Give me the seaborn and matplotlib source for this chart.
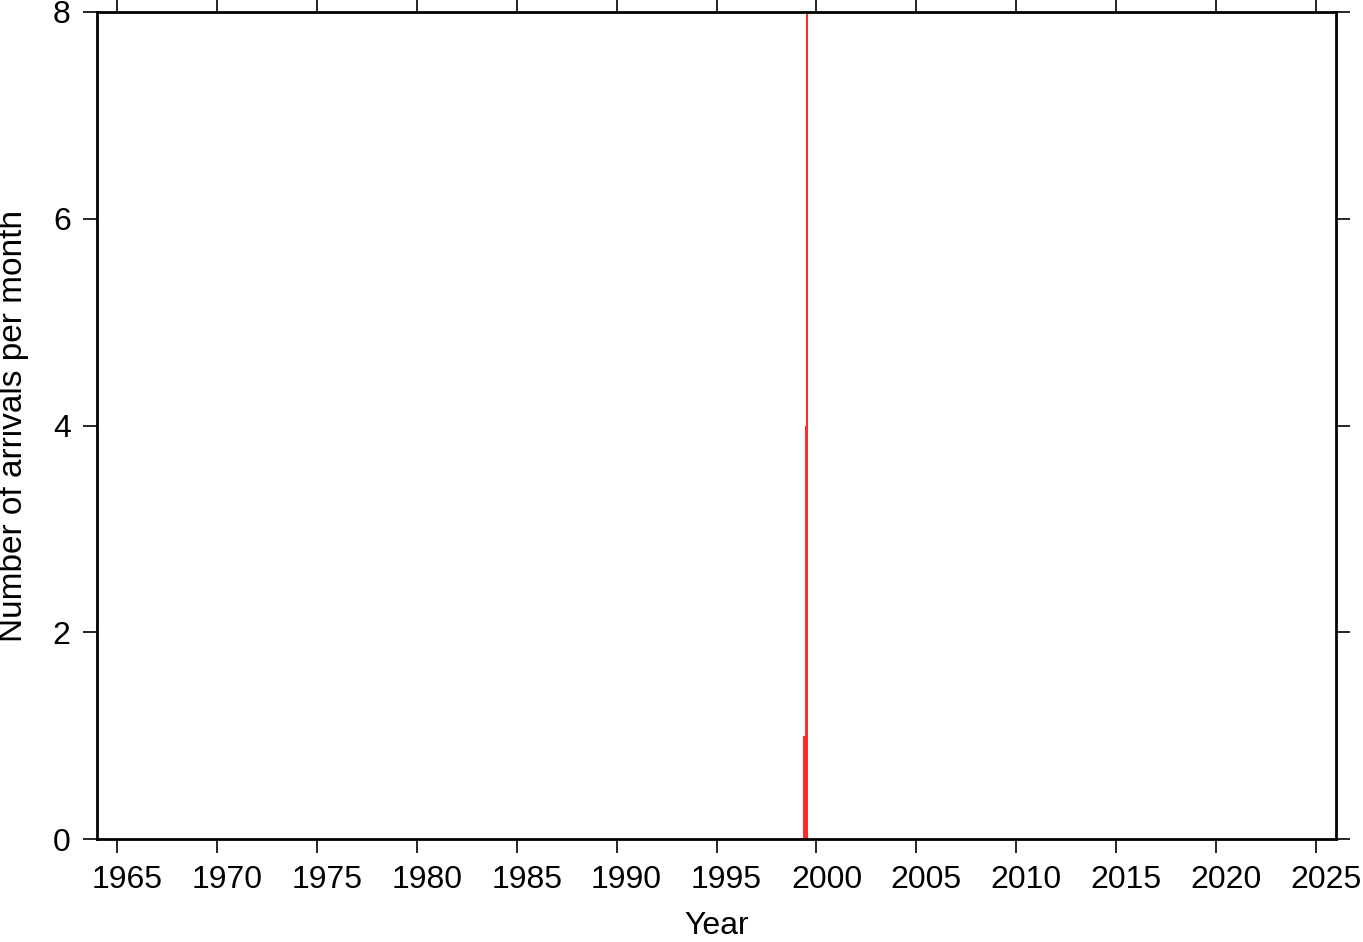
import numpy as np
import pandas as pd
import matplotlib
matplotlib.use("Agg")
import matplotlib.pyplot as plt
import matplotlib.transforms as mtransforms
import seaborn as sns

sns.set_style("ticks")
plt.rcParams['font.family'] = ['Liberation Sans', 'DejaVu Sans']
plt.rcParams['text.color'] = 'black'
plt.rcParams['axes.labelcolor'] = 'black'
plt.rcParams['xtick.color'] = 'black'
plt.rcParams['ytick.color'] = 'black'

# monthly arrival counts (year, month, count)
years = [1999, 1999, 1999]
months = [5, 6, 7]
counts = [1, 4, 9]
x_ticks = list(range(1965, 2030, 5))
y_ticks = [0, 2, 4, 6, 8]

df = pd.DataFrame({"year": years, "month": months, "count": counts})
df["t"] = df["year"] + (df["month"] - 0.5) / 12.0

fig = plt.figure(figsize=(13.63, 9.42), dpi=100)
ax = fig.add_axes([0.0712, 0.1093, 0.9090, 0.8780])

sns.histplot(data=df, x="t", weights="count", binwidth=1 / 12.0,
             binrange=(1964, 2026), ax=ax,
             color="#ff2020", alpha=0.95, edgecolor="none", element="bars")

ax.set_xlim(1964, 2026)
ax.set_ylim(0, 8)
ax.set_xticks(x_ticks)
ax.set_yticks(y_ticks)
ax.set_xlabel("Year", fontsize=23, labelpad=11)
ax.set_ylabel("Number of arrivals per month", fontsize=24)
ax.yaxis.set_label_coords(-0.0549, 0.5)
ax.tick_params(axis="both", which="both", direction="out", length=10, width=1.2,
               labelsize=23, top=True, right=True, pad=9, colors="black")

# year labels sit a little right of their ticks in the original
shift = mtransforms.ScaledTranslation(0.10, 0, fig.dpi_scale_trans)
for lab in ax.get_xticklabels():
    lab.set_transform(lab.get_transform() + shift)

for s in ax.spines.values():
    s.set_visible(True)
    s.set_linewidth(2)
    s.set_color("black")

fig.savefig("out.png", dpi=100)
